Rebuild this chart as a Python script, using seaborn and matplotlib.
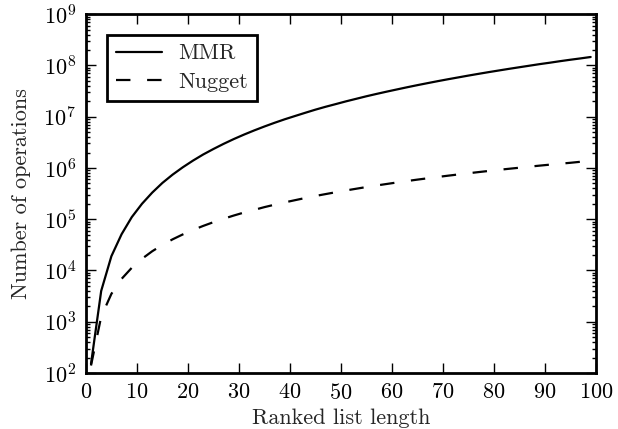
import matplotlib
matplotlib.use("Agg")
import matplotlib.pyplot as plt
import seaborn as sns
import pandas as pd
from matplotlib.ticker import LogLocator, MultipleLocator, NullFormatter

list_length = list(range(1, 100, 2))
mmr_ops = [150, 4.0e3, 1.9e4, 5.1e4, 1.1e5, 2.0e5, 3.3e5, 5.1e5, 7.4e5, 1.03e6,
           1.39e6, 1.83e6, 2.34e6, 2.95e6, 3.66e6, 4.47e6, 5.39e6, 6.43e6, 7.6e6, 8.9e6,
           1.03e7, 1.19e7, 1.37e7, 1.56e7, 1.76e7, 1.99e7, 2.23e7, 2.5e7, 2.78e7, 3.08e7,
           3.4e7, 3.75e7, 4.12e7, 4.51e7, 4.93e7, 5.37e7, 5.83e7, 6.33e7, 6.85e7, 7.4e7,
           7.97e7, 8.58e7, 9.21e7, 9.88e7, 1.06e8, 1.13e8, 1.21e8, 1.29e8, 1.37e8, 1.46e8]
nugget_ops = [140, 1260, 3500, 6860, 1.13e4, 1.69e4, 2.37e4, 3.15e4, 4.05e4, 5.05e4,
              6.17e4, 7.4e4, 8.75e4, 1.02e5, 1.18e5, 1.35e5, 1.52e5, 1.72e5, 1.92e5, 2.13e5,
              2.35e5, 2.59e5, 2.84e5, 3.09e5, 3.36e5, 3.64e5, 3.93e5, 4.24e5, 4.55e5, 4.87e5,
              5.21e5, 5.56e5, 5.92e5, 6.28e5, 6.67e5, 7.06e5, 7.46e5, 7.88e5, 8.3e5, 8.74e5,
              9.19e5, 9.64e5, 1.01e6, 1.06e6, 1.11e6, 1.16e6, 1.21e6, 1.26e6, 1.32e6, 1.37e6]
series_names = ["MMR", "Nugget"]
x_label = "Ranked list length"
y_label = "Number of operations"

sns.set_style("ticks")
plt.rcParams.update({
    "font.family": "serif",
    "font.serif": ["cmr10", "DejaVu Serif"],
    "mathtext.fontset": "cm",
    "axes.formatter.use_mathtext": True,
    "font.size": 16,
    "axes.linewidth": 2,
    "xtick.direction": "in",
    "ytick.direction": "in",
    "xtick.top": True,
    "ytick.right": True,
    "xtick.major.size": 7,
    "ytick.major.size": 7,
    "xtick.minor.size": 3,
    "ytick.minor.size": 3,
    "xtick.major.width": 1,
    "ytick.major.width": 1,
    "ytick.minor.width": 1,
    "xtick.major.pad": 7,
    "ytick.major.pad": 7,
    "xtick.color": "black",
    "ytick.color": "black",
    "axes.edgecolor": "black",
})

df = pd.DataFrame({
    "n": list_length * 2,
    "ops": mmr_ops + nugget_ops,
    "method": [series_names[0]] * len(list_length) + [series_names[1]] * len(list_length),
})

fig = plt.figure(figsize=(6.18, 4.29), dpi=100)
ax = fig.add_axes([0.139, 0.1305, 0.825, 0.8365])
sns.lineplot(data=df, x="n", y="ops", style="method", color="black",
             dashes={"MMR": "", "Nugget": (6.5, 7.5)}, linewidth=1.6, ax=ax)
ax.set_yscale("log")
ax.set_xlim(0, 100)
ax.set_ylim(1e2, 1e9)
ax.xaxis.set_major_locator(MultipleLocator(10))
ax.yaxis.set_major_locator(LogLocator(base=10, numticks=20))
ax.yaxis.set_minor_locator(LogLocator(base=10, subs=range(2, 10), numticks=20))
ax.yaxis.set_minor_formatter(NullFormatter())
ax.tick_params(axis="both", labelsize=16)
ax.set_xlabel(x_label, fontsize=16, labelpad=4)
ax.set_ylabel(y_label, fontsize=16, labelpad=9)
leg = ax.legend(loc="upper left", fontsize=16, frameon=True, fancybox=False,
                borderpad=0.4, handlelength=2.1, handletextpad=0.7,
                labelspacing=0.4, borderaxespad=0,
                bbox_to_anchor=(0.041, 0.942))
leg.get_frame().set_edgecolor("black")
leg.get_frame().set_linewidth(2)
leg.get_frame().set_alpha(1)
fig.savefig("out.png", dpi=100)
